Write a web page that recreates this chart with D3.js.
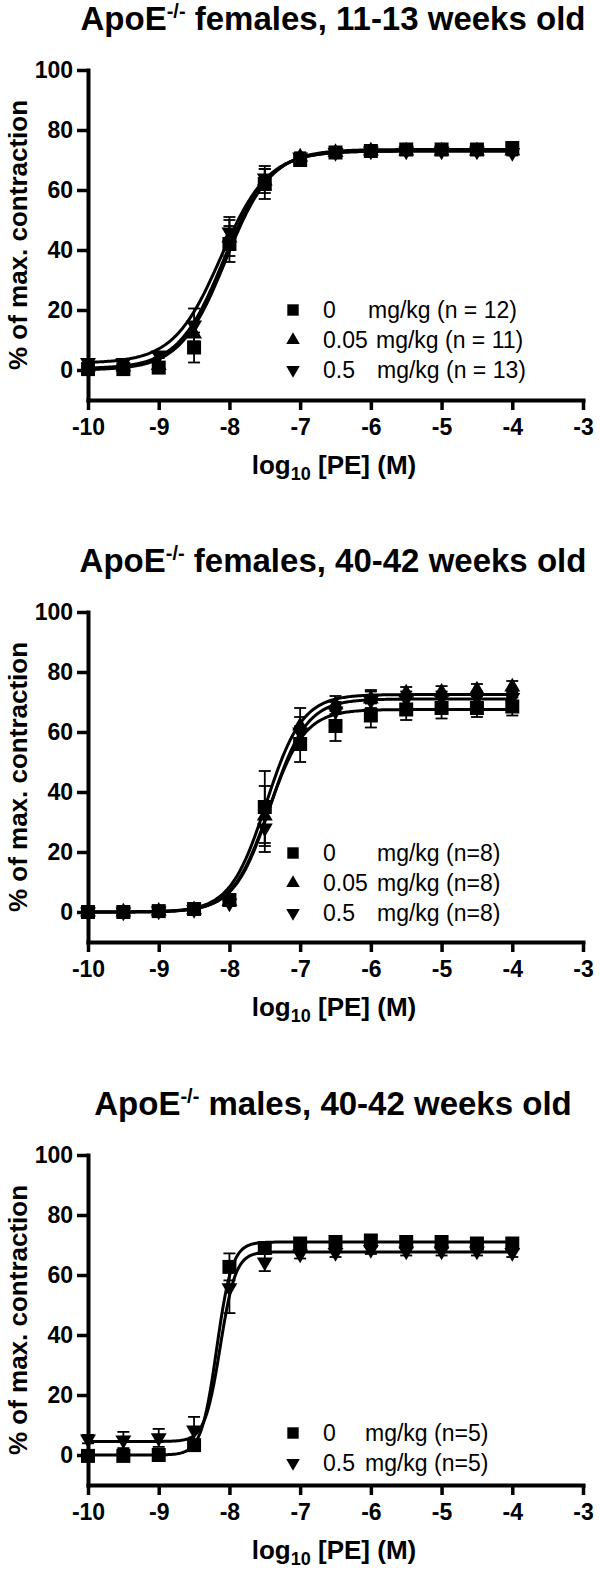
<!DOCTYPE html>
<html>
<head>
<meta charset="utf-8">
<script src="https://cdn.jsdelivr.net/npm/d3@7"></script>
<style>
  body { margin: 0; background: #fff; }
  svg { display: block; font-family: "Liberation Sans", Arial, sans-serif; }
  .axis path, .axis line { stroke: #000; }
  .axis text { font-size: 23px; font-weight: bold; fill: #000; }
</style>
</head>
<body>
<svg id="chart" width="600" height="1570"></svg>
<script>

// shared x positions and ticks
var logPE = [-10, -9.5, -9, -8.5, -8, -7.5, -7, -6.5, -6, -5.5, -5, -4.5, -4];
var xTicks = [-10, -9, -8, -7, -6, -5, -4, -3];
var yTicks = [0, 20, 40, 60, 80, 100];

// panel 1: females 11-13 weeks
var p1Title = ["females, 11-13 weeks old"];
var p1Dose0 = [0.3, 0.3, 0.8, 7.5, 42, 62, 70, 72.5, 73, 73.5, 73.5, 73.5, 74];
var p1Dose0Err = [0.5, 0.5, 0.8, 5, 6, 5, 1.5, 1, 1, 1, 1, 1, 1];
var p1Dose005 = [1, 1, 1.5, 12, 44, 63, 71, 72.5, 73, 73, 73, 73, 73];
var p1Dose005Err = [0.5, 0.5, 0.8, 4, 6, 4, 1.5, 1, 1, 1, 1, 1, 1];
var p1Dose05 = [2.5, 2.5, 5, 15, 46, 64, 71, 72.5, 73, 73, 73, 73, 72.5];
var p1Dose05Err = [0.8, 0.8, 1, 5.5, 5, 4, 1.5, 1, 1, 1, 1, 1, 1];
// fit: bottom, top, logEC50, hill slope
var p1Fit0 = [0, 73.5, -8.05, 1.35];
var p1Fit005 = [0.5, 73, -8.08, 1.35];
var p1Fit05 = [2.3, 73, -8.12, 1.3];
var p1Legend = [["0", "mg/kg (n = 12)"], ["0.05", "mg/kg (n = 11)"], ["0.5", "mg/kg (n = 13)"]];

// panel 2: females 40-42 weeks
var p2Title = ["females, 40-42 weeks old"];
var p2Dose0 = [0, 0, 0.3, 1, 4, 35, 56, 62, 65.5, 67.5, 68, 68, 68.5];
var p2Dose0Err = [0.2, 0.2, 0.3, 0.5, 1, 12, 6, 5, 4, 3.5, 3.5, 3, 3];
var p2Dose005 = [0, 0, 0.3, 0.8, 3.5, 32, 62, 69, 71, 73, 73.3, 74, 75];
var p2Dose005Err = [0.2, 0.2, 0.3, 0.5, 1, 10, 6, 3, 3, 2, 2, 2, 2];
var p2Dose05 = [0, 0, 0.3, 0.8, 3, 28, 60, 67, 70.5, 71, 71.5, 71.5, 71.5];
var p2Dose05Err = [0.2, 0.2, 0.3, 0.5, 1, 8, 5, 3, 3, 2.5, 2, 2, 2];
var p2Fit0 = [0, 67.5, -7.45, 1.7];
var p2Fit005 = [0, 72.5, -7.48, 1.7];
var p2Fit05 = [0, 71, -7.42, 1.7];
var p2Legend = [["0", "mg/kg (n=8)"], ["0.05", "mg/kg (n=8)"], ["0.5", "mg/kg (n=8)"]];

// panel 3: males 40-42 weeks
var p3Title = ["males, 40-42 weeks old"];
var p3Dose0 = [-0.3, -0.3, 0, 3.3, 62.7, 69, 70.5, 71, 71.5, 71, 71, 70.5, 70.5];
var p3Dose0Err = [0.5, 0.5, 0.5, 1, 4.5, 2, 1, 1, 1, 1, 1, 1, 1];
var p3Dose05 = [5.3, 5, 5.7, 8.3, 55.7, 64.3, 67, 67.5, 68.5, 68, 68, 68, 67.5];
var p3Dose05Err = [1.4, 2.7, 3, 4.4, 8.4, 3, 1.5, 1.5, 1.5, 1.5, 1.5, 1.5, 1.5];
var p3Fit0 = [0, 71, -8.18, 4];
var p3Fit05 = [4.5, 67.7, -8.13, 4];
var p3Legend = [["0", "mg/kg (n=5)"], ["0.5", "mg/kg (n=5)"]];

var panels = [
  { top: 0, title: p1Title[0], legendX: [368, 376, 377], legendY: 310,
    series: [
      { shape: "square", y: p1Dose0, err: p1Dose0Err, fit: p1Fit0, label: p1Legend[0] },
      { shape: "up", y: p1Dose005, err: p1Dose005Err, fit: p1Fit005, label: p1Legend[1] },
      { shape: "down", y: p1Dose05, err: p1Dose05Err, fit: p1Fit05, label: p1Legend[2] }
    ] },
  { top: 542, title: p2Title[0], legendX: [377, 377, 377], legendY: 311,
    series: [
      { shape: "square", y: p2Dose0, err: p2Dose0Err, fit: p2Fit0, label: p2Legend[0] },
      { shape: "up", y: p2Dose005, err: p2Dose005Err, fit: p2Fit005, label: p2Legend[1] },
      { shape: "down", y: p2Dose05, err: p2Dose05Err, fit: p2Fit05, label: p2Legend[2] }
    ] },
  { top: 1085, title: p3Title[0], legendX: [365, 365], legendY: 348,
    series: [
      { shape: "square", y: p3Dose0, err: p3Dose0Err, fit: p3Fit0, label: p3Legend[0] },
      { shape: "down", y: p3Dose05, err: p3Dose05Err, fit: p3Fit05, label: p3Legend[1] }
    ] }
];

var svg = d3.select("#chart");

var x = d3.scaleLinear().domain([-10, -3]).range([88, 583]);
var y = d3.scaleLinear().domain([-10, 100]).range([400, 70]);

function hill(p, v) {
  return p[0] + (p[1] - p[0]) / (1 + Math.pow(10, (p[2] - v) * p[3]));
}

function symbolPath(shape, big) {
  if (shape == "square") return d3.symbol(d3.symbolSquare, big ? 196 : 130)();
  return d3.symbol(d3.symbolTriangle, big ? 110 : 80)();
}
function symbolTransform(shape, cx, cy) {
  return "translate(" + cx + "," + cy + ")" + (shape == "down" ? " rotate(180)" : "");
}

var curveX = d3.range(-10, -3.999, 0.02);
var line = d3.line()
  .x(function(d) { return x(d[0]); })
  .y(function(d) { return y(d[1]); });

panels.forEach(function(p) {
  var g = svg.append("g").attr("transform", "translate(0," + p.top + ")");

  // title
  var t = g.append("text")
    .attr("x", 333).attr("y", 30)
    .attr("text-anchor", "middle")
    .style("font-size", "33px").style("font-weight", "bold");
  t.append("tspan").text("ApoE");
  t.append("tspan").attr("dy", -12).style("font-size", "20px").text("-/-");
  t.append("tspan").attr("dy", 12).text(" " + p.title);

  // axes
  g.append("g").attr("class", "axis")
    .attr("transform", "translate(88,0)")
    .call(d3.axisLeft(y).tickValues(yTicks).tickSize(11).tickSizeOuter(0).tickPadding(4)
      .tickFormat(function(d) { return String(d); }));
  g.append("g").attr("class", "axis")
    .attr("transform", "translate(0,400)")
    .call(d3.axisBottom(x).tickValues(xTicks).tickSize(10).tickSizeOuter(0).tickPadding(9)
      .tickFormat(function(d) { return String(d); }));
  g.selectAll(".axis path").attr("stroke-width", 4).attr("stroke-linecap", "square");
  g.selectAll(".axis line").attr("stroke-width", 3.5);

  // axis titles
  g.append("text")
    .attr("transform", "translate(27,235) rotate(-90)")
    .attr("text-anchor", "middle")
    .style("font-size", "26px").style("font-weight", "bold")
    .text("% of max. contraction");

  var xt = g.append("text")
    .attr("x", 334).attr("y", 474)
    .attr("text-anchor", "middle")
    .style("font-size", "26px").style("font-weight", "bold");
  xt.append("tspan").text("log");
  xt.append("tspan").attr("dy", 6).style("font-size", "18px").text("10");
  xt.append("tspan").attr("dy", -6).text(" [PE] (M)");

  // fitted curves
  p.series.forEach(function(s) {
    g.append("path")
      .datum(curveX.map(function(v) { return [v, hill(s.fit, v)]; }))
      .attr("d", line)
      .attr("fill", "none")
      .attr("stroke", "#000")
      .attr("stroke-width", 3);
  });

  // error bars
  p.series.forEach(function(s) {
    var eb = g.append("g").attr("stroke", "#000").attr("stroke-width", 1.8);
    logPE.forEach(function(v, i) {
      var cx = x(v), lo = y(s.y[i] - s.err[i]), hi = y(s.y[i] + s.err[i]);
      eb.append("line").attr("x1", cx).attr("x2", cx).attr("y1", lo).attr("y2", hi);
      eb.append("line").attr("x1", cx - 6).attr("x2", cx + 6).attr("y1", lo).attr("y2", lo);
      eb.append("line").attr("x1", cx - 6).attr("x2", cx + 6).attr("y1", hi).attr("y2", hi);
    });
  });

  // markers
  p.series.forEach(function(s) {
    g.selectAll(null)
      .data(logPE.map(function(v, i) { return [v, s.y[i]]; }))
      .enter().append("path")
      .attr("d", symbolPath(s.shape, true))
      .attr("transform", function(d) { return symbolTransform(s.shape, x(d[0]), y(d[1])); })
      .attr("fill", "#000");
  });

  // legend
  p.series.forEach(function(s, i) {
    var ly = p.legendY + i * 30;
    g.append("path")
      .attr("d", symbolPath(s.shape, false))
      .attr("transform", symbolTransform(s.shape, 293, ly))
      .attr("fill", "#000");
    g.append("text").attr("x", 323).attr("y", ly + 8)
      .style("font-size", "23px").text(s.label[0]);
    g.append("text").attr("x", p.legendX[i]).attr("y", ly + 8)
      .style("font-size", "23px").text(s.label[1]);
  });
});
</script>
</body>
</html>
